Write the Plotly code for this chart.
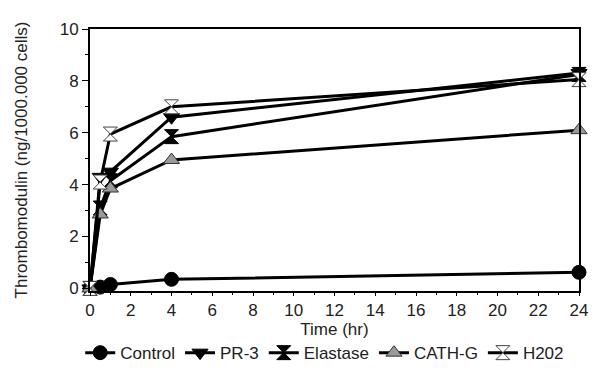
import plotly.graph_objects as go

time_hr = [0, 0.5, 1, 4, 24]
control = [0.0, 0.05, 0.15, 0.35, 0.62]
pr3 = [0.0, 4.3, 4.5, 6.6, 8.3]
elastase = [0.0, 3.1, 4.15, 5.85, 8.25]
cath_g = [0.0, 2.85, 3.85, 4.95, 6.1]
h202 = [0.0, 4.1, 5.95, 7.0, 8.05]

series = [
    ("Control", control, dict(symbol="circle", size=14, color="black", line=dict(color="black", width=1))),
    ("PR-3", pr3, dict(symbol="triangle-down", size=14, color="black", line=dict(color="black", width=1))),
    ("Elastase", elastase, dict(symbol="hourglass", size=14, color="black", line=dict(color="black", width=1))),
    ("CATH-G", cath_g, dict(symbol="triangle-up", size=14, color="#9a9a9a", line=dict(color="#333333", width=1))),
    ("H202", h202, dict(symbol="hourglass", size=14, color="white", line=dict(color="#444444", width=1))),
]

fig = go.Figure()
for name, vals, mk in series:
    fig.add_trace(go.Scatter(
        x=time_hr, y=vals, name=name, mode="lines+markers",
        line=dict(color="black", width=3), marker=mk, cliponaxis=False,
    ))

font_family = "Liberation Sans, Arial, sans-serif"
fig.update_layout(
    width=608, height=390,
    margin=dict(l=80, r=37, t=16, b=107),
    paper_bgcolor="white", plot_bgcolor="white",
    font=dict(family=font_family, size=17, color="#222222"),
    showlegend=True,
    legend=dict(orientation="h", x=0.48, xanchor="center", y=-0.237, yanchor="middle",
                font=dict(size=17), itemwidth=30, tracegroupgap=0,
                bgcolor="rgba(0,0,0,0)"),
    xaxis=dict(
        range=[0, 24], tickmode="array", tickvals=list(range(0, 25, 2)),
        showgrid=False, zeroline=False, showline=True, linecolor="black", linewidth=2,
        mirror=True, ticks="outside", ticklen=3, tickcolor="black", tickwidth=1,
        tickfont=dict(size=17), title=dict(text="Time (hr)", font=dict(size=17), standoff=0),
        minor=dict(tickvals=list(range(1, 24, 2)), ticks="outside", ticklen=2, tickcolor="black", tickwidth=1),
    ),
    yaxis=dict(
        range=[-0.1, 10], tickmode="array", tickvals=list(range(0, 11, 2)),
        showgrid=False, zeroline=False, showline=True, linecolor="black", linewidth=2,
        mirror=True, ticks="outside", ticklen=6, tickcolor="black", tickwidth=1,
        tickfont=dict(size=17),
        title=dict(text="Thrombomodulin (ng/1000.000 cells)", font=dict(size=17), standoff=28),
        minor=dict(tickvals=list(range(1, 10, 2)), ticks="outside", ticklen=3, tickcolor="black", tickwidth=1),
    ),
)

fig.write_html("out.html")
